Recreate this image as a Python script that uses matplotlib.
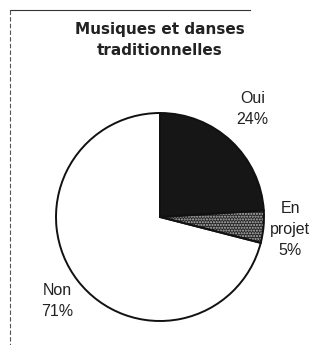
import matplotlib
matplotlib.use("Agg")
import matplotlib.pyplot as plt
from matplotlib.lines import Line2D

TITLE = "Musiques et danses\ntraditionnelles"
CATEGORIES = ["Oui", "En\nprojet", "Non"]
SHARES = [24, 5, 71]
COLORS = ["#161616", "#262626", "white"]

plt.rcParams["font.family"] = ["Liberation Sans", "DejaVu Sans"]

fig = plt.figure(figsize=(3.16, 3.45), dpi=100)
# pie centre at about (160, 217) px, radius 104 px
ax = fig.add_axes([56 / 316, 24 / 345, 208 / 316, 208 / 345])

wedges, _ = ax.pie(
    SHARES,
    colors=COLORS,
    startangle=90,
    counterclock=False,
    radius=1,
    wedgeprops={"linewidth": 0},
)
wedges[1].set_hatch("......")
wedges[1].set_edgecolor("#bbbbbb")
# outline on top of the filled slices
ax.pie(SHARES, colors=["white"] * len(SHARES), startangle=90, counterclock=False,
       radius=1, wedgeprops={"edgecolor": "#111111", "linewidth": 1.4, "fill": False})

label_pos = [(0.89, 1.04), (1.25, -0.12), (-0.99, -0.81)]
for (x, y), cat, share in zip(label_pos, CATEGORIES, SHARES):
    ax.text(x, y, f"{cat}\n{share}%", ha="center", va="center",
            fontsize=11.5, linespacing=1.5, color="#222222")

ax.set_xlim(-1.0, 1.0)
ax.set_ylim(-1.0, 1.0)
ax.set_aspect("equal")
ax.axis("off")

fig.text(160 / 316, 1 - 40 / 345, TITLE, ha="center", va="center",
         fontsize=11, fontweight="bold", family="DejaVu Sans",
         linespacing=1.55, color="#222222")

# scanned frame lines
fig.add_artist(Line2D([10 / 316, 250 / 316], [1 - 10 / 345, 1 - 10 / 345],
                      color="#333333", linewidth=0.8))
fig.add_artist(Line2D([10 / 316, 10 / 316], [1 - 10 / 345, 0],
                      color="#555555", linewidth=0.8, linestyle=(0, (4, 2))))

fig.savefig("out.png", dpi=100)
